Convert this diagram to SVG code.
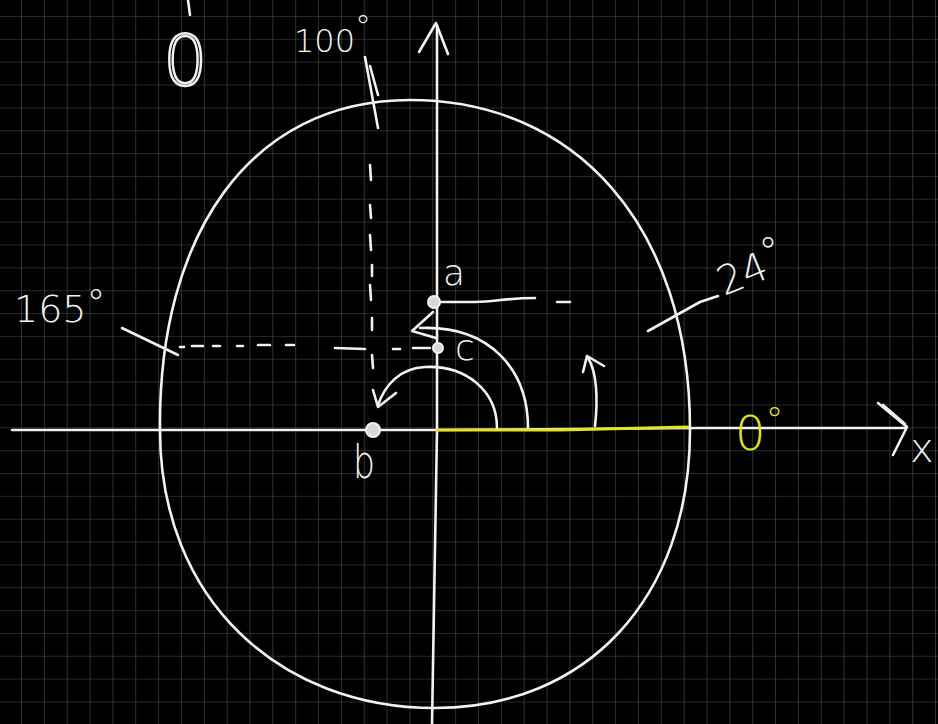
<svg xmlns="http://www.w3.org/2000/svg" width="938" height="724" viewBox="0 0 938 724">
<defs>
<pattern id="grid" patternUnits="userSpaceOnUse" x="21" y="16" width="22.85" height="22.85">
<path d="M0,0 H22.85 M0,0 V22.85" fill="none" stroke="#505050" stroke-width="1.2"/>
</pattern>
</defs>
<style>
.ink{fill:none;stroke:#f2f2f2;stroke-width:2.6;stroke-linecap:round;stroke-linejoin:round}
.yel{fill:none;stroke:#e6e21e;stroke-width:3;stroke-linecap:round;stroke-linejoin:round}
.lbl{font-family:"DejaVu Sans","Liberation Sans",sans-serif;font-weight:200;fill:#f2f2f2}
.ylbl{font-family:"DejaVu Sans","Liberation Sans",sans-serif;font-weight:200;fill:#e6e21e}
.dot{fill:#d8d8d8;stroke:#f2f2f2;stroke-width:2}
</style>
<rect width="938" height="724" fill="#000"/>
<rect width="938" height="724" fill="url(#grid)"/>

<g id="connectors">
<path id="ellipse" class="ink" d="M410,100 C575,100 690,225 690,430 C690,600 585,708 435,708 C280,708 160,600 160,430 C158,235 250,100 410,100 Z"/>
<path id="x-axis" class="ink" d="M12,430 L300,430 L437,430 L700,428 L905,428"/>
<path id="x-arrow" class="ink" d="M878,403 L907,427 L893,455 M883,405 L905,424"/>
<path id="y-axis" class="ink" d="M432,724 L437,430 L437,26"/>
<path id="y-arrow" class="ink" d="M419,52 L436,23 L448,54"/>
<path id="zero-seg" class="yel" d="M437,430 L560,430 L688,427"/>
<path id="a-line" class="ink" d="M440,302 L475,302 C495,302 505,298 535,298 M557,302 L570,302"/>
<path id="c-dash" class="ink" d="M180,347 L184,347 M192,346 L203,346 M213,346 L220,346 M237,346 L243,346 M258,345 L270,345 M286,345 L294,345 M335,348 L365,349 M393,349 L400,349 M413,348 L430,348"/>
<path id="b-dash" class="ink" d="M365,57 L378,128 M370,66 L378,95 M370,165 L371,180 M370,205 L371,218 M370,235 L371,250 M372,265 L372,276 M370,285 L371,300 M372,318 L372,330 M372,355 L373,368"/>
<path id="tick165" class="ink" d="M122,328 L178,355"/>
<path id="tick24" class="ink" d="M648,331 L700,302 L718,296"/>
<path id="arc-a" class="ink" d="M528,428 C528,370 490,325 420,328"/>
<path id="arc-a-head" class="ink" d="M433,312 L412,331 L436,338"/>
<path id="arc-b" class="ink" d="M497,428 C497,390 465,365 425,367 C400,368 385,385 378,405"/>
<path id="arc-b-head" class="ink" d="M373,390 L378,407 L396,393"/>
<path id="arc-0" class="ink" d="M595,426 C598,400 597,372 588,358"/>
<path id="arc-0-head" class="ink" d="M583,372 L587,356 L604,366"/>
<path id="top-stroke" class="ink" d="M188,0 L190,15"/>
</g>

<g id="point-a">
<circle class="dot" cx="434" cy="302" r="6"/>
<text class="lbl" x="443" y="285" font-size="36">a</text>
</g>
<g id="point-c">
<circle class="dot" cx="438" cy="348" r="5"/>
<text class="lbl" x="455" y="360" font-size="36">c</text>
</g>
<g id="point-b">
<circle class="dot" cx="373" cy="430" r="7"/>
<text class="lbl" x="353" y="478" font-size="46" textLength="22" lengthAdjust="spacingAndGlyphs">b</text>
</g>
<g id="label-100">
<text class="lbl" x="294" y="52" font-size="32">100<tspan dy="-14">°</tspan></text>
</g>
<g id="label-165">
<text class="lbl" x="14" y="322" font-size="38">165<tspan dy="-6">°</tspan></text>
</g>
<g id="label-24">
<text class="lbl" x="724" y="296" font-size="40" transform="rotate(-22 724 296)">24<tspan dy="-10">°</tspan></text>
</g>
<g id="label-0">
<text class="ylbl" x="735" y="450" font-size="48">0<tspan dy="-18" font-size="36">°</tspan></text>
</g>
<g id="label-x">
<text class="lbl" x="910" y="462" font-size="40">x</text>
</g>
<g id="label-top-0">
<text x="163" y="85" font-size="70" font-family="DejaVu Sans, Liberation Sans, sans-serif" font-weight="200" fill="none" stroke="#f2f2f2" stroke-width="2.4">0</text>
</g>
</svg>
